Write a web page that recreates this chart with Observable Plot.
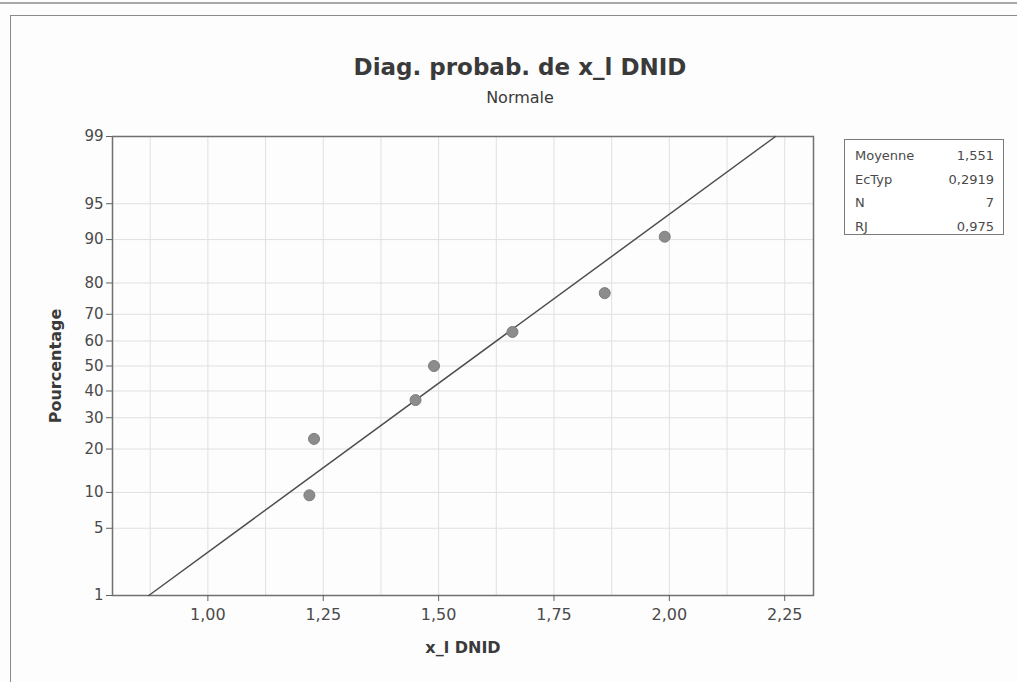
<!DOCTYPE html>
<html>
<head>
<meta charset="utf-8">
<script src="https://cdn.jsdelivr.net/npm/d3@7"></script>
<script src="https://cdn.jsdelivr.net/npm/@observablehq/plot@0.6"></script>
<style>
  html, body { margin: 0; padding: 0; background: #ffffff; }
  #wrap { position: relative; width: 1017px; height: 682px; overflow: hidden; background: #fdfdfd; font-family: "DejaVu Sans", Verdana, sans-serif; }
  #scanline { position: absolute; left: 0; top: 2px; width: 1017px; height: 2px; background: #a8a8a8; }
  #outer { position: absolute; left: 10px; top: 15px; width: 1100px; height: 800px; border-left: 1.5px solid #8a8a8a; border-top: 1.5px solid #8a8a8a; }
  #chart { position: absolute; left: 0; top: 0; }
  #title { position: absolute; left: 0; width: 1040px; top: 54px; text-align: center; font-weight: bold; font-size: 23px; line-height: 26px; color: #3a3a3a; }
  #subtitle { position: absolute; left: 0; width: 1040px; top: 88px; text-align: center; font-size: 16px; line-height: 19px; color: #3a3a3a; }
  #legend { position: absolute; left: 844px; top: 139px; width: 160px; height: 96px; border: 1.5px solid #7a7a7a; background: #fff; box-sizing: border-box; padding: 4px 9px 0 10px; font-size: 13px; color: #4a4a4a; }
  .row { display: flex; justify-content: space-between; height: 23.5px; line-height: 23.5px; }
</style>
</head>
<body>
<div id="wrap">
  <div id="scanline"></div>
  <div id="outer"></div>
  <div id="chart"></div>
  <div id="title"></div>
  <div id="subtitle"></div>
  <div id="legend"></div>
</div>
<script>
// ---- data ----
const titleText = "Diag. probab. de x_l DNID";
const subtitleText = "Normale";
const xLabel = "x_l DNID";
const yLabel = "Pourcentage";

const xValues = [1.22, 1.23, 1.45, 1.49, 1.66, 1.86, 1.99];   // observations
const pctValues = [9.5, 23.0, 36.5, 50.0, 63.5, 77.0, 90.5];   // plotted percentages

const xTicks = [1.00, 1.25, 1.50, 1.75, 2.00, 2.25];
const xGrid = [0.875, 1.0, 1.125, 1.25, 1.375, 1.5, 1.625, 1.75, 1.875, 2.0, 2.125, 2.25];
const yTicks = [1, 5, 10, 20, 30, 40, 50, 60, 70, 80, 90, 95, 99];

const statLabels = ["Moyenne", "EcTyp", "N", "RJ"];
const statValues = ["1,551", "0,2919", "7", "0,975"];
const fitMean = 1.551;
const fitSd = 0.2919;
const fitEnds = [1, 99];   // fitted line drawn between these percentages

// inverse standard normal CDF (Acklam)
function probit(p) {
  const a = [-3.969683028665376e+01, 2.209460984245205e+02, -2.759285104469687e+02, 1.383577518672690e+02, -3.066479806614716e+01, 2.506628277459239e+00];
  const b = [-5.447609879822406e+01, 1.615858368580409e+02, -1.556989798598866e+02, 6.680131188771972e+01, -1.328068155288572e+01];
  const c = [-7.784894002430293e-03, -3.223964580411365e-01, -2.400758277161838e+00, -2.549732539343734e+00, 4.374664141464968e+00, 2.938163982698783e+00];
  const d = [7.784695709041462e-03, 3.224671290700398e-01, 2.445134137142996e+00, 3.754408661907416e+00];
  const pl = 0.02425, ph = 1 - pl;
  let q, r;
  if (p < pl) {
    q = Math.sqrt(-2 * Math.log(p));
    return (((((c[0]*q+c[1])*q+c[2])*q+c[3])*q+c[4])*q+c[5]) / ((((d[0]*q+d[1])*q+d[2])*q+d[3])*q+1);
  } else if (p <= ph) {
    q = p - 0.5; r = q * q;
    return (((((a[0]*r+a[1])*r+a[2])*r+a[3])*r+a[4])*r+a[5])*q / (((((b[0]*r+b[1])*r+b[2])*r+b[3])*r+b[4])*r+1);
  } else {
    q = Math.sqrt(-2 * Math.log(1 - p));
    return -(((((c[0]*q+c[1])*q+c[2])*q+c[3])*q+c[4])*q+c[5]) / ((((d[0]*q+d[1])*q+d[2])*q+d[3])*q+1);
  }
}
const zOf = pct => probit(pct / 100);

const points = xValues.map((x, i) => ({x, z: zOf(pctValues[i])}));
const fitLine = fitEnds.map(p => ({x: fitMean + fitSd * zOf(p), z: zOf(p)}));
const yTickZ = yTicks.map(zOf);
const yLabelFor = z => {
  let best = 0;
  yTickZ.forEach((t, i) => { if (Math.abs(t - z) < Math.abs(yTickZ[best] - z)) best = i; });
  return String(yTicks[best]);
};

const chart = Plot.plot({
  width: 1017,
  height: 682,
  marginLeft: 112,
  marginRight: 204,
  marginTop: 136,
  marginBottom: 87,
  style: { fontFamily: "DejaVu Sans, Verdana, sans-serif", fontSize: "15px", color: "#4a4a4a", background: "transparent" },
  x: { domain: [0.7933, 2.3124] },
  y: { domain: [zOf(1), zOf(99)] },
  marks: [
    Plot.ruleX(xGrid, { stroke: "#e0e0e0", strokeWidth: 1 }),
    Plot.ruleY(yTickZ, { stroke: "#e0e0e0", strokeWidth: 1 }),
    Plot.frame({ stroke: "#707070", strokeWidth: 1.5 }),
    Plot.axisX({ ticks: xTicks, tickFormat: d => d.toFixed(2).replace(".", ","), tickSize: 6, tickPadding: 7, fontSize: 16, label: null, stroke: "#606060" }),
    Plot.axisY({ ticks: yTickZ, tickFormat: yLabelFor, tickSize: 6, tickPadding: 3, fontSize: 15, label: null, stroke: "#606060" }),
    Plot.line(fitLine, { x: "x", y: "z", stroke: "#4f4f4f", strokeWidth: 1.5 }),
    Plot.dot(points, { x: "x", y: "z", r: 5.5, fill: "#8c8c8c", stroke: "#7c7c7c", strokeWidth: 1 }),
    Plot.text([yLabel], { frameAnchor: "left", textAnchor: "middle", dx: -57, rotate: -90, fontWeight: "bold", fontSize: 16, fill: "#3a3a3a" }),
    Plot.text([xLabel], { frameAnchor: "bottom", dy: 57, fontWeight: "bold", fontSize: 16, fill: "#3a3a3a" })
  ]
});
document.getElementById("chart").appendChild(chart);

document.getElementById("title").textContent = titleText;
document.getElementById("subtitle").textContent = subtitleText;
const legend = document.getElementById("legend");
statLabels.forEach((lab, i) => {
  const row = document.createElement("div");
  row.className = "row";
  const a = document.createElement("span"); a.textContent = lab;
  const b = document.createElement("span"); b.textContent = statValues[i];
  row.appendChild(a); row.appendChild(b);
  legend.appendChild(row);
});
</script>
</body>
</html>
